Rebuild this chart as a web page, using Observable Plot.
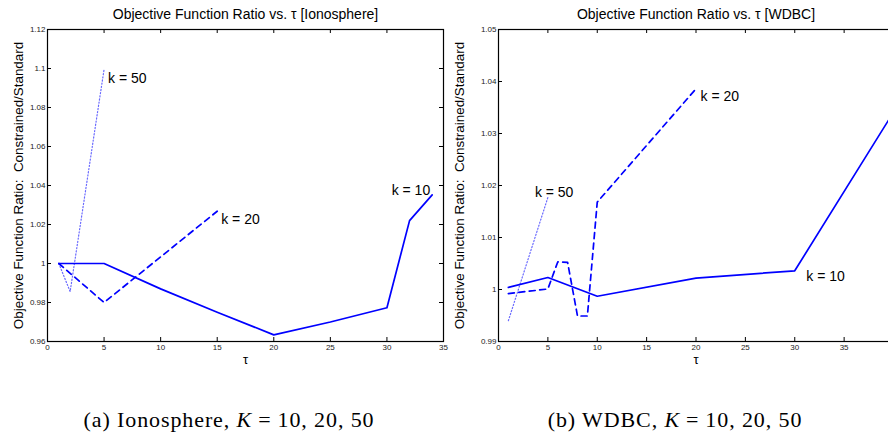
<!DOCTYPE html>
<html><head><meta charset="utf-8">
<script src="https://cdn.jsdelivr.net/npm/d3@7"></script>
<script src="https://cdn.jsdelivr.net/npm/@observablehq/plot@0.6"></script>
<style>
body{margin:0;background:#fff;}
#wrap{position:relative;width:888px;height:437px;overflow:hidden;background:#fff;}
.panel{position:absolute;top:0;}
.cap{position:absolute;top:409px;font-family:"Liberation Serif","DejaVu Serif",serif;font-size:22px;line-height:22px;white-space:nowrap;transform:translateX(-50%);color:#000;letter-spacing:0.9px;}
.cap .sp{display:inline-block;width:6px;}
</style></head><body><div id="wrap"></div>
<script>
// ---- Data: Ionosphere ----
const ionoK10Tau = [1, 5, 10, 15, 20, 25, 30, 32, 34];
const ionoK10 = [1.0, 1.0, 0.987, 0.975, 0.9634, 0.970, 0.9773, 1.022, 1.0352];
const ionoK20Tau = [1, 5, 10, 15];
const ionoK20 = [1.0, 0.980, 1.0034, 1.0268];
const ionoK50Tau = [1, 2, 5];
const ionoK50 = [1.0, 0.9856, 1.0995];

// ---- Data: WDBC ----
const wdbcK10Tau = [1, 5, 10, 20, 30, 40];
const wdbcK10 = [1.0004, 1.0023, 0.9987, 1.0022, 1.0036, 1.0341];
const wdbcK20Tau = [1, 5, 6, 7, 8, 9, 10, 20];
const wdbcK20 = [0.9992, 1.0001, 1.0053, 1.0052, 0.9949, 0.9949, 1.0168, 1.0386];
const wdbcK50Tau = [1, 5];
const wdbcK50 = [0.994, 1.0177];

// ---- Ticks ----
const ionoXTicks = [0, 5, 10, 15, 20, 25, 30, 35];
const ionoYTicks = [0.96, 0.98, 1.0, 1.02, 1.04, 1.06, 1.08, 1.1, 1.12];
const wdbcXTicks = [0, 5, 10, 15, 20, 25, 30, 35, 40];
const wdbcXLabelTicks = [0, 5, 10, 15, 20, 25, 30, 35];
const wdbcYTicks = [0.99, 1.0, 1.01, 1.02, 1.03, 1.04, 1.05];

const seriesNames = ["k = 10", "k = 20", "k = 50"];
const yLabel = "Objective Function Ratio:  Constrained/Standard";

const fmt = d => String(parseFloat(d.toFixed(2)));
const FONT = "'Liberation Sans', Arial, Helvetica, sans-serif";
const BLUE = "#0000ff";

function rows(tau, vals) { return tau.map((t, i) => ({tau: t, v: vals[i]})); }

function panel(o) {
  const innerW = o.width - o.ml - o.mr, innerH = o.height - o.mt - o.mb;
  const tk = 4;
  const s10 = rows(o.k10[0], o.k10[1]);
  const s20 = rows(o.k20[0], o.k20[1]);
  const s50 = rows(o.k50[0], o.k50[1]);
  const lab = (data, idx, text, opts) => Plot.text([data[idx]], {x: "tau", y: "v", text: () => text, fontSize: 14, fill: "#000", ...opts});
  return Plot.plot({
    width: o.width, height: o.height,
    marginLeft: o.ml, marginRight: o.mr, marginTop: o.mt, marginBottom: o.mb,
    style: {fontFamily: FONT, background: "transparent", overflow: "visible"},
    x: {domain: o.xDomain},
    y: {domain: o.yDomain},
    marks: [
      Plot.line(s50, {x: "tau", y: "v", stroke: "#6a6aff", strokeWidth: 1.2, strokeDasharray: "1.2,2"}),
      Plot.line(s20, {x: "tau", y: "v", stroke: BLUE, strokeWidth: 1.7, strokeDasharray: "6,4.5"}),
      Plot.line(s10, {x: "tau", y: "v", stroke: BLUE, strokeWidth: 1.7}),
      Plot.tickX(o.xTicks, {x: d => d, insetTop: innerH - tk, stroke: "#000"}),
      Plot.tickX(o.xTicks, {x: d => d, insetBottom: innerH - tk, stroke: "#000"}),
      Plot.tickY(o.yTicks, {y: d => d, insetRight: innerW - tk, stroke: "#000"}),
      Plot.tickY(o.yTicks, {y: d => d, insetLeft: innerW - tk, stroke: "#000"}),
      Plot.frame({stroke: "#000", strokeWidth: 1.2}),
      Plot.axisX({ticks: o.xLabelTicks, tickSize: 0, tickPadding: 3, tickFormat: fmt, fontSize: 8, fill: "#222", label: null}),
      Plot.axisY({ticks: o.yTicks, tickSize: 0, tickPadding: 2, tickFormat: fmt, fontSize: 8, fill: "#222", label: null}),
      lab(s50, s50.length - 1, seriesNames[2], o.l50),
      lab(s20, s20.length - 1, seriesNames[1], o.l20),
      lab(s10, o.l10idx, seriesNames[0], o.l10),
      Plot.text([o.title], {frameAnchor: "top", textAnchor: "middle", lineAnchor: "middle", dy: -15, fontSize: 14, fill: "#000"}),
      Plot.text(["τ"], {frameAnchor: "bottom", textAnchor: "middle", lineAnchor: "middle", dy: 18, fontSize: 13, fill: "#000"}),
      Plot.text([yLabel], {frameAnchor: "left", textAnchor: "middle", lineAnchor: "middle", dx: o.ylDx, rotate: -90, fontSize: 13.4, fill: "#000"})
    ]
  });
}

const wrap = document.getElementById("wrap");

const left = panel({
  title: "Objective Function Ratio vs. τ [Ionosphere]",
  width: 450, height: 370, ml: 47, mr: 7, mt: 29, mb: 29,
  xDomain: [0, 35], yDomain: [0.96, 1.12],
  xTicks: ionoXTicks, xLabelTicks: ionoXTicks, yTicks: ionoYTicks,
  k10: [ionoK10Tau, ionoK10], k20: [ionoK20Tau, ionoK20], k50: [ionoK50Tau, ionoK50],
  l50: {textAnchor: "start", dx: 4, dy: 9},
  l20: {textAnchor: "start", dx: 4, dy: 8},
  l10idx: ionoK10Tau.length - 1,
  l10: {textAnchor: "end", dx: -2, dy: -4},
  ylDx: -29
});
left.classList.add("panel");
left.style.left = "0px";
wrap.appendChild(left);

const right = panel({
  title: "Objective Function Ratio vs. τ [WDBC]",
  width: 455, height: 370, ml: 58, mr: 2, mt: 29, mb: 29,
  xDomain: [0, 40], yDomain: [0.99, 1.05],
  xTicks: wdbcXTicks, xLabelTicks: wdbcXLabelTicks, yTicks: wdbcYTicks,
  k10: [wdbcK10Tau, wdbcK10], k20: [wdbcK20Tau, wdbcK20], k50: [wdbcK50Tau, wdbcK50],
  l50: {textAnchor: "start", dx: -13, dy: -5},
  l20: {textAnchor: "start", dx: 4.5, dy: 7.5},
  l10idx: wdbcK10Tau.indexOf(30),
  l10: {textAnchor: "start", dx: 11.5, dy: 6},
  ylDx: -39
});
right.classList.add("panel");
right.style.left = "440px";
wrap.appendChild(right);

const capA = document.createElement("div");
capA.className = "cap";
capA.style.left = "229px";
capA.innerHTML = "(a) Ionosphere, <i>K</i><span class='sp'></span>=<span class='sp'></span>10, 20, 50";
wrap.appendChild(capA);

const capB = document.createElement("div");
capB.className = "cap";
capB.style.left = "675px";
capB.innerHTML = "(b) WDBC, <i>K</i><span class='sp'></span>=<span class='sp'></span>10, 20, 50";
wrap.appendChild(capB);
</script>
</body></html>
